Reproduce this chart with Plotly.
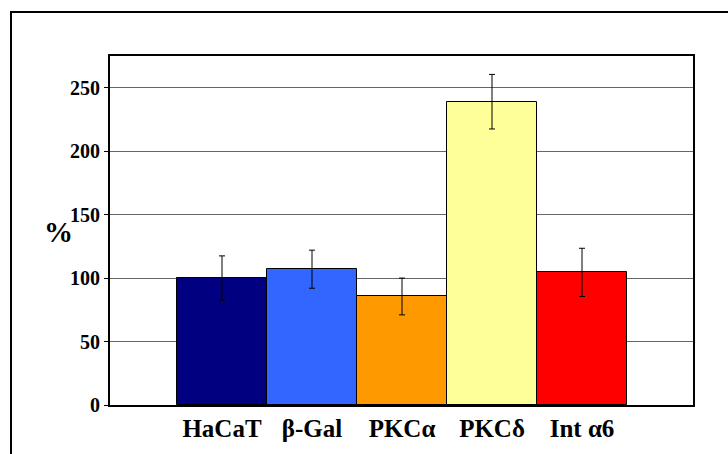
import plotly.graph_objects as go

categories = ["HaCaT", "β-Gal", "PKCα", "PKCδ", "Int α6"]
values = [100, 107, 85.5, 239, 104.5]
errors = [17.5, 15, 14.5, 21.5, 19]
colors = ["#000080", "#3366FF", "#FF9900", "#FFFF99", "#FF0000"]
y_ticks = [0, 50, 100, 150, 200, 250]

FONT = "Liberation Serif"
positions = list(range(len(categories)))

fig = go.Figure()
fig.add_trace(go.Bar(
    x=positions, y=values, width=1.0,
    marker=dict(color=colors, line=dict(color="black", width=1)),
    error_y=dict(type="data", array=errors, visible=True,
                 color="black", thickness=1, width=3),
    showlegend=False, hoverinfo="skip",
))

W, H = 728, 454
L, T = 110, 56
R = 728 - 693
B = 454 - 405
pw, ph = W - L - R, H - T - B

def px_to_paper_x(px):
    return (px - L) / pw

def px_to_paper_y(py):
    return (H - B - py) / ph

# outer frame: only top and left edges are visible in the picture
fig.add_shape(type="line", xref="paper", yref="paper",
              x0=px_to_paper_x(10), x1=px_to_paper_x(760),
              y0=px_to_paper_y(12), y1=px_to_paper_y(12),
              line=dict(color="black", width=2), layer="below")
fig.add_shape(type="line", xref="paper", yref="paper",
              x0=px_to_paper_x(11), x1=px_to_paper_x(11),
              y0=px_to_paper_y(11), y1=px_to_paper_y(480),
              line=dict(color="black", width=2), layer="below")

fig.add_annotation(text="<b>%</b>", xref="paper", yref="paper",
                   x=px_to_paper_x(58), y=px_to_paper_y(232),
                   showarrow=False, font=dict(family=FONT, size=29, color="black"),
                   xanchor="center", yanchor="middle")

fig.update_layout(
    width=W, height=H,
    margin=dict(l=L, r=R, t=T, b=B, pad=0),
    plot_bgcolor="white", paper_bgcolor="white",
    bargap=0,
    font=dict(family=FONT),
    xaxis=dict(
        range=[-0.5 - 67 / 90, 4.5 + 66 / 90],
        tickvals=positions,
        ticktext=[f"<b>{c}</b>" for c in categories],
        tickfont=dict(family=FONT, size=25, color="black"),
        showgrid=False, zeroline=False,
        showline=True, linecolor="black", linewidth=2, mirror=True,
        ticks="", fixedrange=True,
    ),
    yaxis=dict(
        range=[0, 275],
        tickvals=y_ticks,
        ticktext=[f"<b>{v}</b>" for v in y_ticks],
        tickfont=dict(family=FONT, size=20, color="black"),
        showgrid=True, gridcolor="#666666", gridwidth=1,
        zeroline=False,
        showline=True, linecolor="black", linewidth=2, mirror=True,
        ticks="outside", ticklen=4, tickcolor="black", tickwidth=1,
        fixedrange=True,
    ),
)

fig.write_html(
    "out.html",
    config={"displayModeBar": False},
    post_script="document.body.style.margin='0';document.body.style.overflow='hidden';",
)
